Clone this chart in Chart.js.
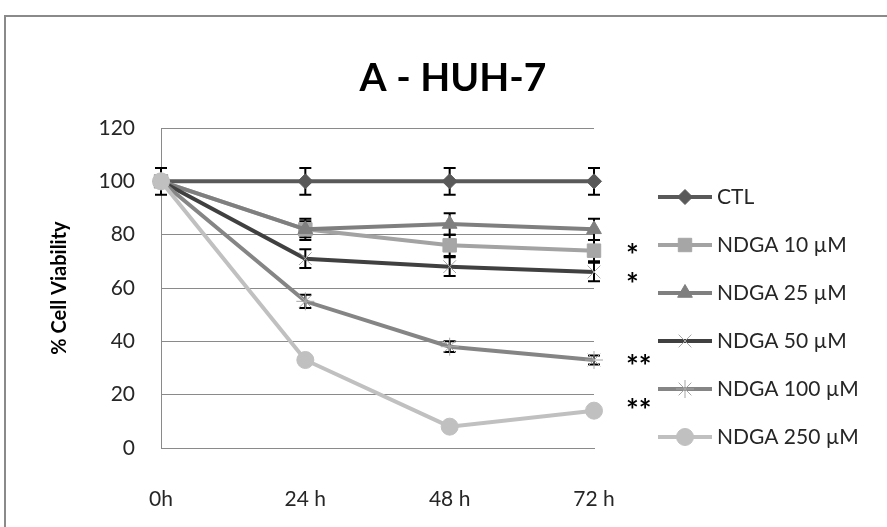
<!DOCTYPE html>
<html>
<head>
<meta charset="utf-8">
<title>A - HUH-7</title>
<script src="https://cdn.jsdelivr.net/npm/chart.js@4/dist/chart.umd.min.js"></script>
<style>
  html, body { margin: 0; padding: 0; background: #fff; }
  canvas { display: block; }
</style>
</head>
<body>
<canvas id="chart" width="887" height="527"></canvas>
<script>
// values (% cell viability)
const timeLabels = ['0h', '24 h', '48 h', '72 h']
const seriesNames = ['CTL', 'NDGA 10 µM', 'NDGA 25 µM', 'NDGA 50 µM', 'NDGA 100 µM', 'NDGA 250 µM']

const ctl = [100, 100, 100, 100]
const ndga10 = [100, 82, 76, 74]
const ndga25 = [100, 82, 84, 82]
const ndga50 = [100, 71, 68, 66]
const ndga100 = [100, 55, 38, 33]
const ndga250 = [100, 33, 8, 14]

// +/- error
const ctlErr = [5, 5, 5, 5]
const ndga10Err = [0, 3, 4, 4]
const ndga25Err = [0, 4, 4, 4]
const ndga50Err = [0, 3.5, 3.5, 3.5]
const ndga100Err = [0, 2.5, 2, 1.7]
const ndga250Err = [0, 1, 1, 1]

const yTicks = [0, 20, 40, 60, 80, 100, 120]

// significance marks on the right, with the y value they sit at
const sigMarks = ['*', '*', '**', '**']
const sigValues = [75, 64, 33.5, 17]

const chartTitle = 'A - HUH-7'
const FONT = 'Lato'

const makeSet = (i, data, errors, color, style, radius, markerBg, markerBorder) => ({
  label: seriesNames[i],
  data: data,
  errors: errors,
  borderColor: color,
  backgroundColor: color,
  borderWidth: 4,
  tension: 0,
  pointStyle: style,
  pointRadius: radius,
  pointHoverRadius: radius,
  pointBackgroundColor: markerBg,
  pointBorderColor: markerBorder,
  pointBorderWidth: 1,
  clip: false,
  order: 5 - i // later series on top, like the original
})

const datasets = [
  makeSet(0, ctl, ctlErr, '#595959', 'rectRot', 7.5, '#595959', '#595959'),
  makeSet(1, ndga10, ndga10Err, '#a3a3a3', 'rect', 9.5, '#a6a6a6', '#a6a6a6'),
  makeSet(2, ndga25, ndga25Err, '#7f7f7f', 'triangle', 8.5, '#7f7f7f', '#7f7f7f'),
  makeSet(3, ndga50, ndga50Err, '#404040', 'crossRot', 9, '#a6a6a6', '#a6a6a6'),
  makeSet(4, ndga100, ndga100Err, '#858585', 'star', 9, '#a6a6a6', '#a6a6a6'),
  makeSet(5, ndga250, ndga250Err, '#c0c0c0', 'circle', 8.5, '#c0c0c0', '#c0c0c0')
]

const framePlugin = {
  id: 'frame',
  beforeDraw(chart) {
    const ctx = chart.ctx
    ctx.save()
    ctx.fillStyle = '#fff'
    ctx.fillRect(0, 0, chart.width, chart.height)
    ctx.strokeStyle = '#8a8a8a'
    ctx.lineWidth = 2
    ctx.beginPath()
    ctx.moveTo(5, chart.height)
    ctx.lineTo(5, 16)
    ctx.lineTo(chart.width, 16)
    ctx.stroke()
    // title, centred on the whole frame
    ctx.fillStyle = '#000'
    ctx.font = 'bold 39px ' + FONT
    ctx.textAlign = 'center'
    ctx.textBaseline = 'middle'
    ctx.fillText(chartTitle, 453, 78)
    ctx.restore()
  }
}

const errorBarPlugin = {
  id: 'errorBars',
  beforeDatasetsDraw(chart) {
    const ctx = chart.ctx
    const y = chart.scales.y
    ctx.save()
    ctx.strokeStyle = '#000'
    ctx.lineWidth = 2
    chart.data.datasets.forEach((ds, di) => {
      const meta = chart.getDatasetMeta(di)
      meta.data.forEach((pt, i) => {
        const e = ds.errors[i]
        if (!e) return
        const top = y.getPixelForValue(ds.data[i] + e)
        const bot = y.getPixelForValue(ds.data[i] - e)
        ctx.beginPath()
        ctx.moveTo(pt.x, top)
        ctx.lineTo(pt.x, bot)
        ctx.moveTo(pt.x - 6, top)
        ctx.lineTo(pt.x + 6, top)
        ctx.moveTo(pt.x - 6, bot)
        ctx.lineTo(pt.x + 6, bot)
        ctx.stroke()
      })
    })
    ctx.restore()
  }
}

const sideLegendPlugin = {
  id: 'sideLegend',
  afterDraw(chart) {
    const ctx = chart.ctx
    ctx.save()
    chart.data.datasets.forEach((ds, i) => {
      const yy = 197 + i * 48
      ctx.strokeStyle = ds.borderColor
      ctx.lineWidth = 4
      ctx.beginPath()
      ctx.moveTo(658, yy)
      ctx.lineTo(712, yy)
      ctx.stroke()
      ctx.fillStyle = ds.pointBackgroundColor
      ctx.strokeStyle = ds.pointBorderColor
      ctx.lineWidth = ds.pointBorderWidth
      Chart.helpers.drawPoint(ctx, {
        pointStyle: ds.pointStyle,
        radius: ds.pointRadius,
        rotation: 0,
        borderWidth: ds.pointBorderWidth
      }, 685, yy)
      ctx.fillStyle = '#262626'
      ctx.font = '21px ' + FONT
      ctx.textBaseline = 'middle'
      ctx.textAlign = 'left'
      ctx.fillText(ds.label, 717, yy)
    })

    // significance asterisks
    const y = chart.scales.y
    ctx.fillStyle = '#000'
    ctx.font = 'bold 30px ' + FONT
    ctx.textBaseline = 'alphabetic'
    sigMarks.forEach((m, i) => {
      ctx.fillText(m, chart.chartArea.right + 32, y.getPixelForValue(sigValues[i]) + 18)
    })
    ctx.restore()
  }
}

new Chart(document.getElementById('chart'), {
  type: 'line',
  data: { labels: timeLabels, datasets: datasets },
  plugins: [framePlugin, errorBarPlugin, sideLegendPlugin],
  options: {
    responsive: false,
    animation: false,
    devicePixelRatio: 1,
    layout: { padding: { left: 0, right: 293, top: 128, bottom: 0 } },
    plugins: {
      legend: { display: false },
      tooltip: { enabled: false },
      title: { display: false }
    },
    scales: {
      x: {
        offset: false,
        grid: { display: false },
        border: { display: true, color: '#8a8a8a', width: 1 },
        ticks: { color: '#262626', padding: 31, font: { family: FONT, size: 21 }, maxRotation: 0 },
        afterFit(scale) { scale.height = 79 }
      },
      y: {
        min: 0,
        max: 120,
        afterBuildTicks(scale) { scale.ticks = yTicks.map(v => ({ value: v })) },
        grid: { color: '#8a8a8a', lineWidth: 1, drawTicks: false },
        border: { display: true, color: '#8a8a8a', width: 1 },
        ticks: { color: '#262626', padding: 26, font: { family: FONT, size: 21 } },
        title: {
          display: true,
          text: '% Cell Viability',
          color: '#000',
          font: { family: FONT, size: 20, weight: 'bold' },
          padding: { top: 48, bottom: 0 }
        },
        afterFit(scale) { scale.width = 161 }
      }
    }
  }
})
</script>
</body>
</html>
